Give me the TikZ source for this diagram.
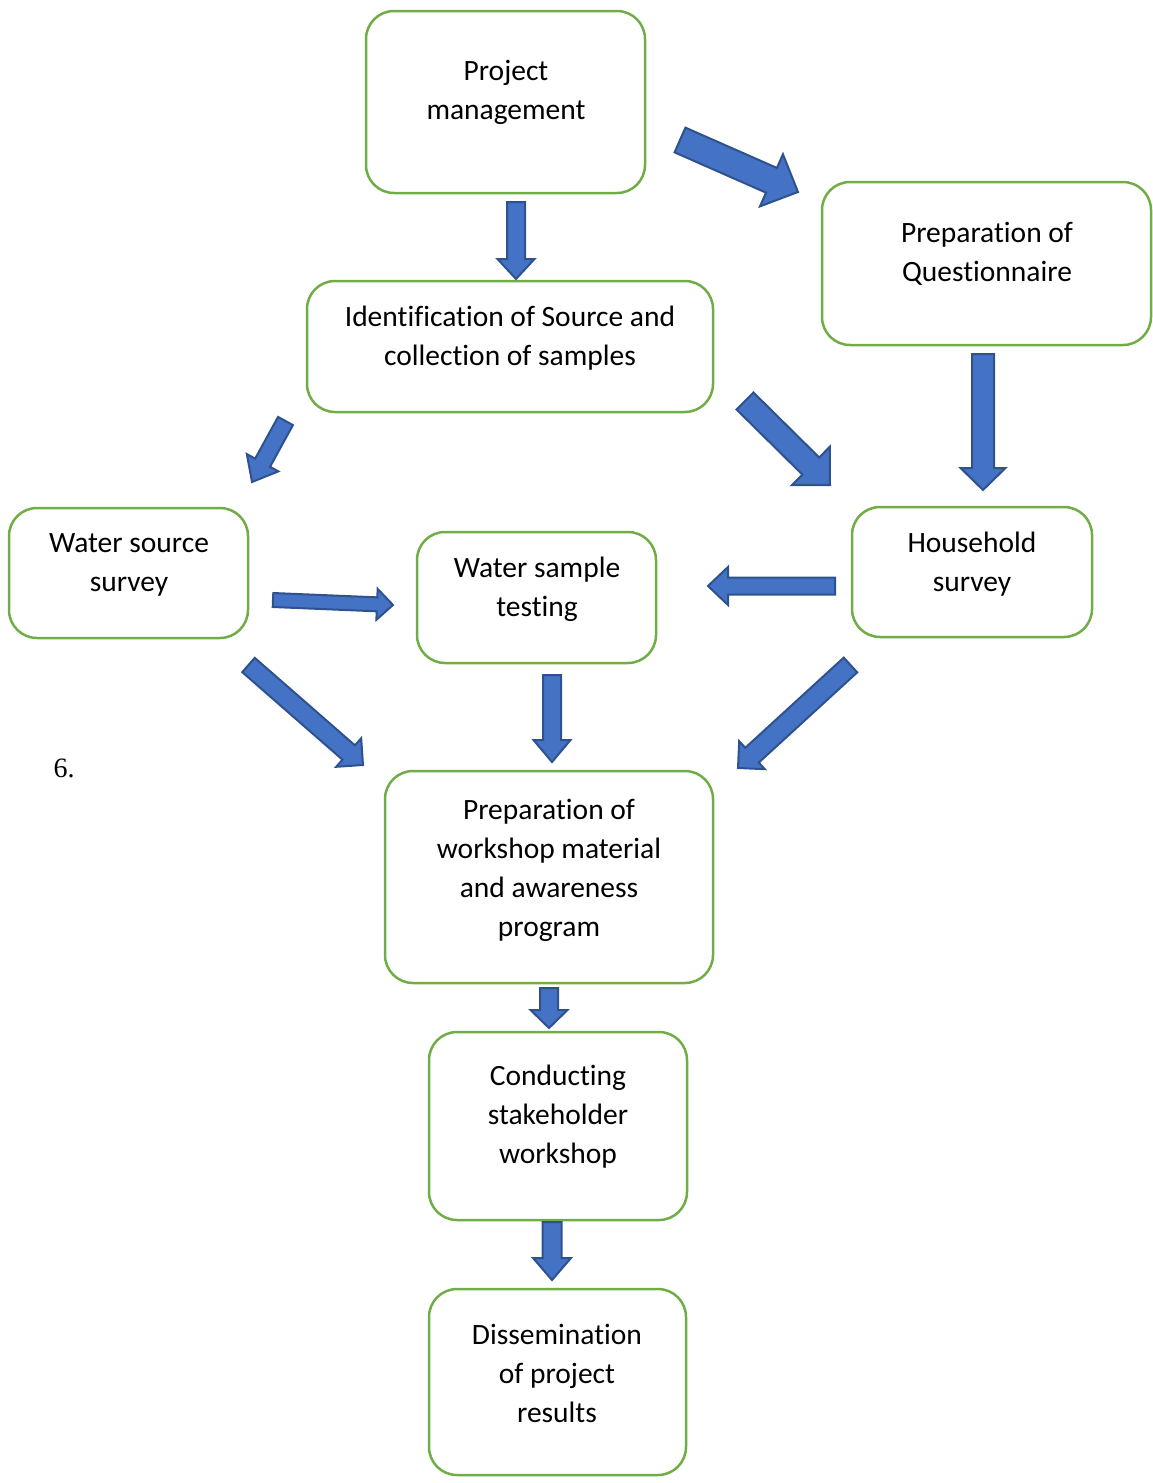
\documentclass[tikz,border=0pt]{standalone}
\usepackage{fontspec}
\setmainfont{Carlito}[RawFeature={-liga,-dlig}]
\newfontfamily\timesfont{Liberation Serif}
\usetikzlibrary{calc}
\definecolor{boxgreen}{HTML}{70AD47}
\definecolor{arrfill}{HTML}{4472C4}
\definecolor{arrline}{HTML}{2F528F}
\tikzset{
  box/.style={draw=boxgreen, line width=2.5pt, rounded corners=28pt, inner sep=0pt},
  boxtext/.style={align=center, font=\fontsize{29.5}{39}\selectfont, inner sep=0pt},
  barr/.style={fill=arrfill, draw=arrline, line width=2pt, line join=miter},
}
% \blockarr{tail}{tip}{shaft half}{head half}{head length}
\newcommand\blockarr[5]{%
  \path[barr] let \p1=(#1), \p2=(#2), \n1={atan2(\y2-\y1,\x2-\x1)}, \n2={veclen(\x2-\x1,\y2-\y1)} in
    [shift={(\p1)}, rotate=\n1]
    (0pt,#3pt) -- ({\n2*1pt-#5pt},#3pt) -- ({\n2*1pt-#5pt},#4pt) -- ({\n2*1pt},0pt)
    -- ({\n2*1pt-#5pt},-#4pt) -- ({\n2*1pt-#5pt},-#3pt) -- (0pt,-#3pt) -- cycle;
}
\newcommand\mybox[5]{% name, x1, y1, x2, y2
  \node[box, minimum width={(#4-#2)*1pt}, minimum height={(#5-#3)*1pt}] (#1) at ({(#2+#4)/2},{(#3+#5)/2}) {};}
\begin{document}
\begin{tikzpicture}[x=1pt,y=-1pt]
\useasboundingbox (0,0) rectangle (1153,1483);
% boxes
\mybox{pm}{366}{11}{645}{193}
\mybox{pq}{822}{182}{1151}{345}
\mybox{is}{307}{281}{713}{412}
\mybox{ws}{9}{508}{248}{638}
\mybox{wt}{417}{532}{656}{663}
\mybox{hs}{852}{507}{1092}{637}
\mybox{pw}{385}{771}{713}{983}
\mybox{cs}{429}{1032}{687}{1220}
\mybox{dr}{429}{1289}{686}{1475}
% texts
\node[boxtext] (pmt) at (506,92) {Project\\management};
\node[boxtext] (pqt) at (987,254) {Preparation of\\Questionnaire};
\node[boxtext] (ist) at (510,338) {Identification of Source and\\collection of samples};
\node[boxtext] (wst) at (129,565) {Water source\\survey};
\node[boxtext] (wtt) at (537,589.5) {Water sample\\testing};
\node[boxtext] (hst) at (972,564) {Household\\survey};
\node[boxtext] (pwt) at (549,870.5) {Preparation of\\workshop material\\and awareness\\program};
\node[boxtext] (cst) at (558,1116.5) {Conducting\\stakeholder\\workshop};
\node[boxtext] (drt) at (557,1373) {Dissemination\\of project\\results};
\node[font=\timesfont\fontsize{28}{32}\selectfont, inner sep=0pt] (six) at (64,768) {6.};
% arrow end points
\coordinate (a1) at (680,140); \coordinate (a2) at (798,192);
\coordinate (b1) at (516,202); \coordinate (b2) at (516,279);
\coordinate (c1) at (285.5,421); \coordinate (c2) at (252,482);
\coordinate (d1) at (745,401); \coordinate (d2) at (830,485);
\coordinate (e1) at (983,354); \coordinate (e2) at (983,490);
\coordinate (f1) at (273,600); \coordinate (f2) at (393,605);
\coordinate (g1) at (835,586); \coordinate (g2) at (708,586);
\coordinate (h1) at (248.5,665); \coordinate (h2) at (363,765);
\coordinate (i1) at (552,675); \coordinate (i2) at (552,762);
\coordinate (j1) at (850.5,665); \coordinate (j2) at (738,768);
\coordinate (k1) at (549,988); \coordinate (k2) at (549,1028);
\coordinate (l1) at (552,1222); \coordinate (l2) at (552,1280);
\blockarr{a1}{a2}{13.5}{28.5}{29}
\blockarr{b1}{b2}{9}{18.5}{20}
\blockarr{c1}{c2}{8.5}{18}{22}
\blockarr{d1}{d2}{12}{27}{27}
\blockarr{e1}{e2}{11}{22.5}{22}
\blockarr{f1}{f2}{7}{15.5}{16}
\blockarr{g1}{g2}{8.5}{19}{20}
\blockarr{h1}{h2}{9.5}{19}{19}
\blockarr{i1}{i2}{9}{18.5}{22}
\blockarr{j1}{j2}{10}{19}{19}
\blockarr{k1}{k2}{9}{18.5}{18}
\blockarr{l1}{l2}{9.5}{19}{22}
\end{tikzpicture}
\end{document}
